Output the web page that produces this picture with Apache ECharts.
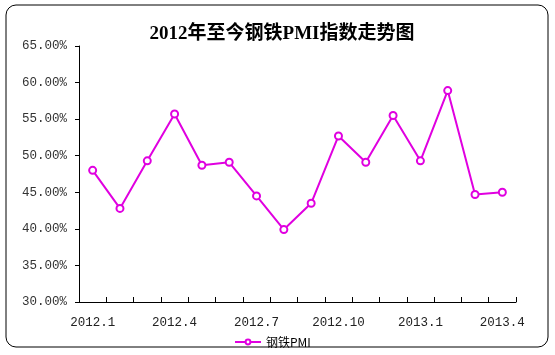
<!DOCTYPE html>
<html>
<head>
<meta charset="utf-8">
<script src="https://cdn.jsdelivr.net/npm/echarts@6/dist/echarts.min.js"></script>
<style>html,body{margin:0;padding:0;background:#fff;}#c{width:555px;height:355px;}</style>
</head>
<body>
<div id="c"></div>
<script>
const titleText = '2012年至今钢铁PMI指数走势图';
const seriesName = '钢铁PMI';
const categories = ['2012.1','2012.2','2012.3','2012.4','2012.5','2012.6','2012.7','2012.8','2012.9','2012.10','2012.11','2012.12','2013.1','2013.2','2013.3','2013.4'];
const pmiValues = [48.0, 42.8, 49.3, 55.7, 48.7, 49.1, 44.5, 39.9, 43.5, 52.7, 49.1, 55.5, 49.3, 58.9, 44.7, 45.0];
const yMin = 30, yMax = 65, yStep = 5;

const chart = echarts.init(document.getElementById('c'), null, {renderer: 'canvas'});
const labelFont = '"Liberation Mono", "DejaVu Sans Mono", monospace';
chart.setOption({
  animation: false,
  backgroundColor: '#fff',
  graphic: [{
    type: 'rect',
    shape: {x: 6, y: 5, width: 542, height: 342, r: 10},
    style: {fill: 'none', stroke: '#000', lineWidth: 1},
    silent: true
  }],
  title: {
    text: titleText,
    left: 277,
    textAlign: 'center',
    top: 20,
    textStyle: {fontSize: 19, fontWeight: 'bold', color: '#000', fontFamily: '"Liberation Serif", "Noto Sans CJK SC", serif'}
  },
  legend: {
    data: [seriesName],
    left: 229,
    top: 331,
    itemWidth: 26,
    itemHeight: 6,
    itemGap: 4,
    textStyle: {fontSize: 12, color: '#000', fontFamily: '"Noto Sans CJK SC", sans-serif'}
  },
  grid: {left: 79, right: 39, top: 46, bottom: 53, containLabel: false},
  xAxis: {
    type: 'category',
    data: categories,
    boundaryGap: true,
    axisLine: {lineStyle: {color: '#000', width: 1}},
    axisTick: {show: true, inside: true, length: 5, interval: 0, alignWithLabel: false, lineStyle: {color: '#000'}},
    axisLabel: {interval: 2, color: '#222', fontSize: 12.5, margin: 14, fontFamily: labelFont},
    splitLine: {show: false}
  },
  yAxis: {
    type: 'value',
    min: yMin, max: yMax, interval: yStep,
    axisLine: {show: true, lineStyle: {color: '#000', width: 1}},
    axisTick: {show: true, inside: false, length: 4, lineStyle: {color: '#000'}},
    axisLabel: {color: '#333', fontSize: 12.5, margin: 12, fontFamily: labelFont, formatter: v => v.toFixed(2) + '%'},
    splitLine: {show: false}
  },
  series: [{
    name: seriesName,
    type: 'line',
    data: pmiValues,
    symbol: 'emptyCircle',
    symbolSize: 7,
    showAllSymbol: true,
    lineStyle: {color: '#E000E0', width: 2},
    itemStyle: {color: '#E000E0', borderColor: '#E000E0', borderWidth: 1},
    emphasis: {disabled: true}
  }]
});
</script>
</body>
</html>
